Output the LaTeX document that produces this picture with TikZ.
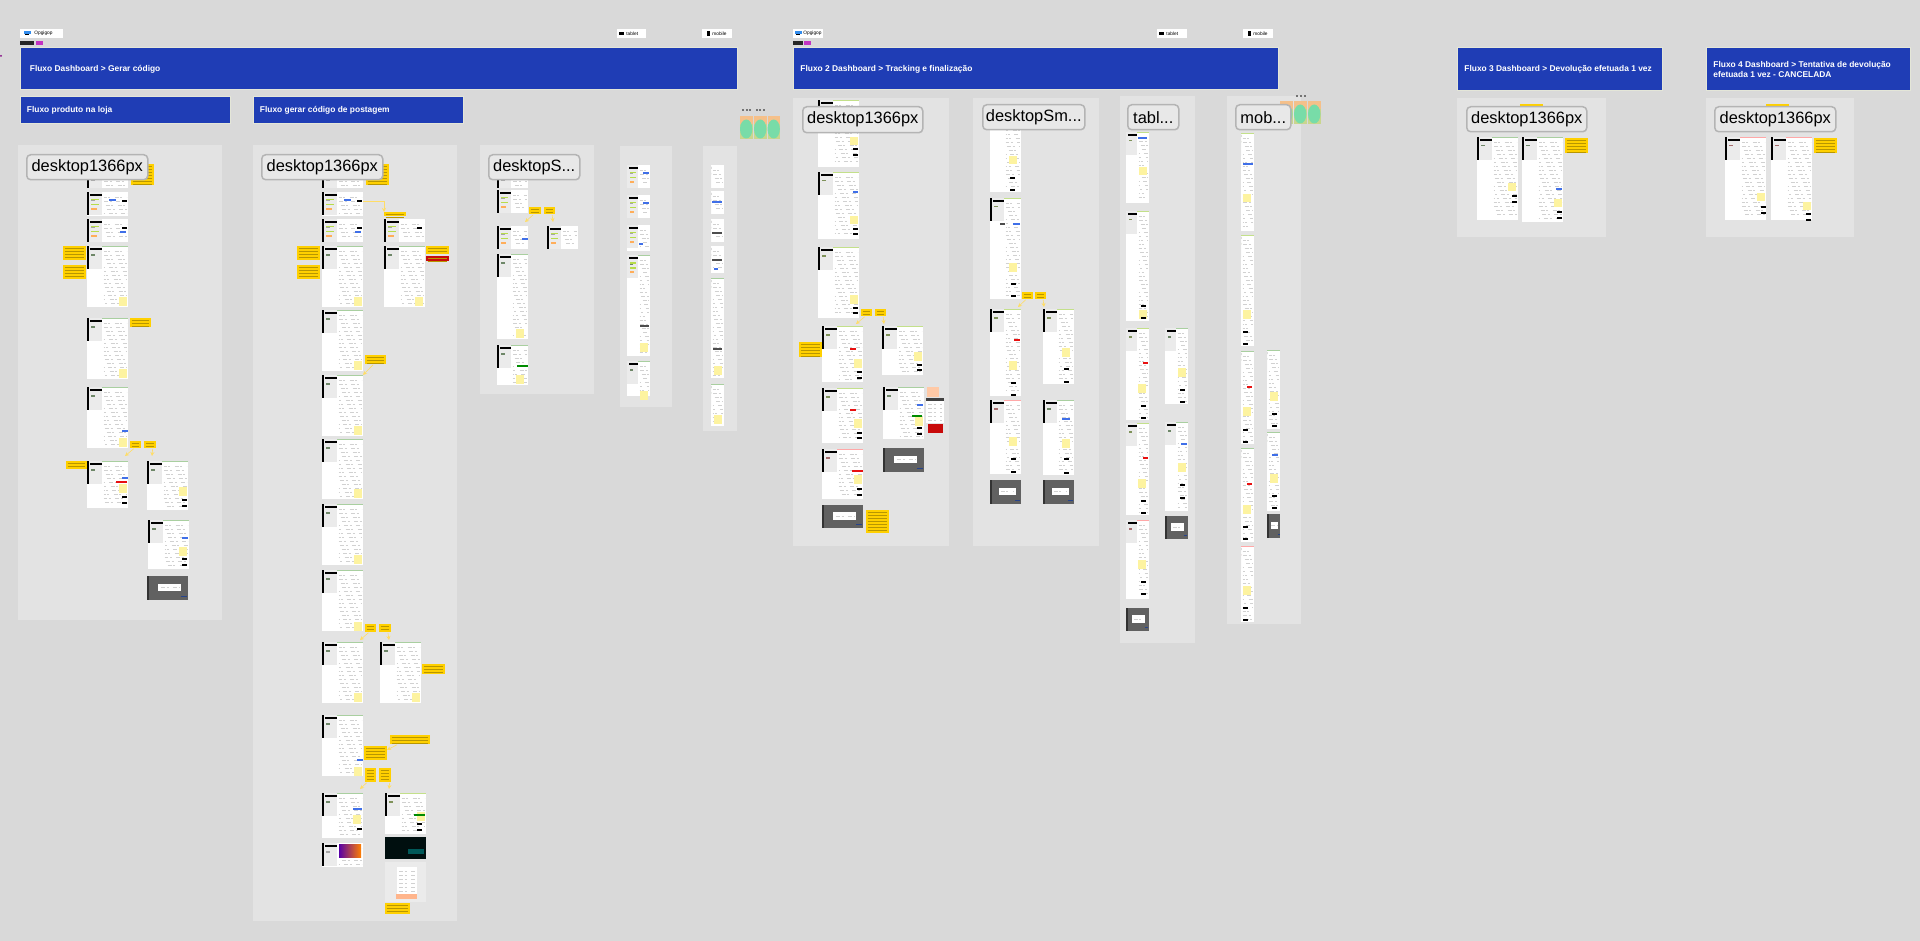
\documentclass[tikz,border=0pt]{standalone}
\usepackage{fontspec}
\setmainfont{Liberation Sans}
\usetikzlibrary{arrows.meta,positioning}

\begin{document}
\begin{tikzpicture}[
    x=0.5pt, y=-0.5pt,          % 1 drawing unit = 1 px of the board, y downwards
    >={Stealth[length=2pt,width=2pt]},
    font=\bfseries\fontsize{4.2}{5.4}\selectfont,
    bannerbox/.style={anchor=north west,fill=blueBar,draw=blueEdge,line width=0.4pt,inner sep=0pt},
    chipbox/.style={anchor=north west,fill=chipGrey,draw=chipEdge,line width=0.75pt,
                    rounded corners=2pt,inner sep=0pt,text=black,
                    font=\mdseries\fontsize{8.2}{9}\selectfont},
    tagbox/.style={anchor=north west,fill=white,inner sep=0pt,minimum height=4.5pt},
    tagtext/.style={inner sep=0pt,text=black,font=\mdseries\fontsize{2.4}{3}\selectfont},
    stickybox/.style={anchor=north west,inner sep=0pt},
    txt/.style={line width=0.22pt,black!18,dash pattern=on 2pt off 0.8pt on 1pt off 2.2pt},
    scrib/.style={line width=0.2pt,stickyY!72!black},
    conn/.style={->,line width=0.3pt,linkY},
  ]
  \definecolor{bgGrey}{HTML}{D9D9D9}
  \definecolor{frameGrey}{HTML}{E3E3E3}
  \definecolor{blueBar}{HTML}{1F3DB5}
  \definecolor{blueEdge}{HTML}{E4E6D8}
  \definecolor{chipGrey}{HTML}{E8E8E8}
  \definecolor{chipEdge}{HTML}{B4B4B4}
  \definecolor{stickyY}{HTML}{FFD000}
  \definecolor{stickyR}{HTML}{C80A0A}
  \definecolor{paleY}{HTML}{FDF3A0}
  \definecolor{linkY}{HTML}{FFDD66}
  \definecolor{stripG}{HTML}{A9CFA0}
  \definecolor{stripL}{HTML}{C3E08A}
  \definecolor{stripP}{HTML}{FFA8A8}
  \definecolor{panelGrey}{HTML}{EBEBEB}
  \definecolor{barBlue}{HTML}{3F6FE8}
  \definecolor{barRed}{HTML}{E81010}
  \definecolor{barLime}{HTML}{B7DC4A}
  \definecolor{barOrange}{HTML}{FFAE5A}
  \definecolor{cardO}{HTML}{F5C08A}
  \definecolor{cardL}{HTML}{C9D68E}
  \definecolor{cardG}{HTML}{78DCA8}

  \newcommand{\scrn}[6]{% x y w h panel-width strip-colour
    \fill[white] (#1,#2) rectangle ++(#3,#4);
    \fill[panelGrey] (#1,#2) rectangle ++(#5,{min(#4,23)});
    \fill[black] ({#1+0.2*#5},{#2+2}) rectangle ++({0.8*#5},2);
    \fill[fill=#6] ({#1+#5},#2) rectangle ++({#3-#5},1);
    \fill[fill=#6!65!black] ({#1+0.25*#5},{#2+8}) rectangle ++({0.3*#5},1.5);
    \pgfmathsetmacro{\ee}{#4-3}
    \foreach \l in {5,9,...,\ee}{
      \draw[txt,dash phase=1.3*\l pt] ({#1+#5+1.5},{#2+\l}) -- ++({#3-#5-3},0);}}
  \newcommand{\dskt}[6]{% the same with the black side rail
    \scrn{#1}{#2}{#3}{#4}{#5}{#6}
    \fill[black] ({#1+0.3},#2) rectangle ++(1.7,{min(#4,23)});}
  \newcommand{\lbars}[3]{% x y panel-width
    \fill[barLime] ({#1+0.25*#3},{#2+7}) rectangle ++({0.55*#3},1.5);
    \fill[barLime] ({#1+0.25*#3},{#2+12}) rectangle ++({0.55*#3},1.5);
    \fill[barOrange] ({#1+0.25*#3},{#2+16}) rectangle ++({0.4*#3},2);}
  \newcommand{\dimscrn}[4]{% x y w h
    \fill[black!62] (#1,#2) rectangle ++(#3,#4);
    \fill[black!80] (#1,#2) rectangle ++(2,#4);
    \fill[white] ({#1+0.28*#3},{#2+0.32*#4}) rectangle ++({0.55*#3},{0.32*#4});
    \draw[txt] ({#1+0.34*#3},{#2+0.48*#4}) -- ++({0.44*#3},0);
    \fill[barBlue!60!black] ({#1+0.82*#3},{#2+0.82*#4}) rectangle ++({0.15*#3},1.5);}
  \newcommand{\sticky}[6]{% name x y w h colour
    \node[stickybox,fill=#6,minimum width=#4*0.5pt,minimum height=#5*0.5pt] (#1) at (#2,#3) {};
    \pgfmathsetmacro{\ee}{#5-1}
    \foreach \l in {2,5,...,\ee}{
      \draw[scrib] ({#2+1.5},{#3+\l}) -- ++({#4-3.5},0);}}
  \newcommand{\banner}[7]{% name x y w h left-pad text
    \node[bannerbox,minimum width=#4*0.5pt,minimum height=#5*0.5pt] (#1) at (#2,#3) {};
    \node[anchor=west,inner sep=0pt,text=white,align=left] (#1txt) at ({#2+#6},{#3+#5/2+1}) {#7};}
  \newcommand{\chip}[6]{% name x y w h text
    \node[chipbox,minimum width=#4*0.5pt,minimum height=#5*0.5pt] (#1) at (#2,#3) {#6};}
  \newcommand{\tagmark}[5]{% name x w text-offset text
    \node[tagbox,minimum width=#3*0.5pt] (#1) at (#2,29) {};
    \node[tagtext,anchor=west] (#1txt) at ({#2+#4},33.5) {#5};}
  \newcommand{\gcard}[2]{% x y
    \fill[cardO] (#1,#2) rectangle ++(12.5,23);
    \fill[cardL] (#1,{#2+8}) rectangle ++(12.5,15);
    \fill[cardG] ({#1+6.2},{#2+13}) ellipse [x radius=6.2,y radius=9.5];}

  %% ---------------- board ----------------
  \fill[bgGrey] (0,0) rectangle (1920,941);
  \useasboundingbox (0,0) rectangle (1920,941);
  \fill[violet] (1,56) circle (1);

  %% ---------------- frames ----------------
  \foreach \xa/\ya/\xb/\yb in {18/145/222/620, 253/145/457/921, 480/145/594/394,
      620/146/672/407, 703/146/737/431, 793/98/949/546, 973/98/1099/546,
      1120/96/1195/643, 1227/96/1301/624, 1457/98/1606/237, 1706/98/1854/237}
    \fill[frameGrey] (\xa,\ya) rectangle (\xb,\yb);

  %% ---------------- tags above the banners ----------------
  \tagmark{tagDeskA}{20}{43}{14}{Opgigop}
  \tagmark{tagTabA}{617}{29}{9}{tablet}
  \tagmark{tagMobA}{702}{30}{10}{mobile}
  \tagmark{tagDeskB}{793}{30}{10}{Opgigop}
  \tagmark{tagTabB}{1157}{30}{9}{tablet}
  \tagmark{tagMobB}{1243}{30}{10}{mobile}
  \foreach \x in {24,795}{
    \fill[barBlue!80!cyan] (\x,31.5) rectangle ++(7,3);
    \fill[black] ({\x+1},34.5) rectangle ++(4,1);}
  \foreach \x in {619,1159}{\fill[black] (\x,32) rectangle ++(5,3);}
  \foreach \x in {707,1248}{\fill[black] (\x,31) rectangle ++(2.5,5);}
  \foreach \x/\w in {20/14,793/10}{\fill[black!85] (\x,41) rectangle ++(\w,4);}
  \foreach \x/\w in {36/7,804/7}{\fill[violet!60!magenta!80] (\x,41) rectangle ++(\w,4);}

  %% ---------------- banners ----------------
  \banner{flowA}{20}{47}{717}{42}{9.5}{Fluxo Dashboard > Gerar código}
  \banner{flowAa}{20}{96}{210}{27}{6.5}{Fluxo produto na loja}
  \banner{flowAb}{253}{96}{210}{27}{6.5}{Fluxo gerar código de postagem}
  \banner{flowB}{793}{47}{485}{42}{7}{Fluxo 2 Dashboard > Tracking e finalização}
  \banner{flowC}{1457}{47}{205}{43}{7}{Fluxo 3 Dashboard > Devolução efetuada 1 vez}
  \banner{flowD}{1706}{47}{204}{43}{7}{Fluxo 4 Dashboard > Tentativa de devolução\\efetuada 1 vez - CANCELADA}

  %% ---------------- desktop screens ----------------
  \foreach \x/\y/\h/\c in {87/172/16/white, 87/192/24/white, 87/219/23/white,
      87/246/61/stripG, 87/318/61/stripG, 87/387/61/stripG, 87/461/47/stripG,
      147/461/49/stripG, 148/520/49/stripG,
      322/172/16/white, 322/192/24/white, 322/219/23/white, 384/219/23/white,
      322/246/61/stripG, 384/246/61/stripG, 322/310/61/stripG, 322/375/61/stripG,
      322/439/60/stripG, 322/504/61/stripG, 322/570/61/stripG, 322/642/61/stripG,
      380/642/61/stripG, 322/715/61/stripG, 322/793/45/stripG, 385/793/41/stripL,
      322/843/24/white,
      818/100/67/stripL, 818/172/67/stripL, 818/247/71/stripL, 822/326/56/stripL,
      882/326/49/stripL, 822/388/55/stripL, 883/387/52/stripG, 822/449/50/stripP,
      1477/137/83/stripG, 1522/137/85/stripG, 1725/137/83/stripP, 1771/137/83/stripP}
    {\dskt{\x}{\y}{41}{\h}{15}{\c}}
  \foreach \x/\y/\h/\c in {497/172/16/white, 497/190/23/white, 497/226/23/white,
      547/226/23/white, 497/254/85/stripG, 497/345/40/stripG,
      990/105/87/stripL, 990/198/101/stripL, 990/309/87/stripL, 1043/309/75/stripL,
      990/400/74/stripP, 1043/400/75/stripG}
    {\dskt{\x}{\y}{31}{\h}{14}{\c}}

  %% ---------------- tablet and mobile screens ----------------
  \foreach \x/\y/\h/\c in {627/165/23/white, 627/195/23/white, 627/225/26/white,
      627/255/101/stripG, 627/361/35/stripG,
      1126/132/71/stripL, 1126/211/110/stripL, 1126/328/92/stripL, 1165/328/76/stripG,
      1126/423/92/stripL, 1165/422/89/stripG, 1126/520/79/stripP}
    {\scrn{\x}{\y}{23}{\h}{11}{\c}}
  \foreach \x/\y/\h/\c in {711/165/23/white, 711/191/23/white, 711/219/23/white,
      711/246/27/white, 711/278/100/stripG, 711/384/42/stripG,
      1241/133/98/stripL, 1241/235/111/stripL, 1241/351/93/stripG, 1241/448/94/stripG,
      1241/546/76/stripP, 1267/350/79/stripG, 1267/432/79/stripG}
    {\scrn{\x}{\y}{13}{\h}{0}{\c}}

  % menu bars of the short screens
  \foreach \x/\y in {87/192, 87/219, 322/192, 322/219, 384/219}{\lbars{\x}{\y}{15}}
  \foreach \x/\y in {497/190, 497/226, 547/226}{\lbars{\x}{\y}{14}}
  \foreach \x/\y in {627/165, 627/195, 627/225, 627/255}{\lbars{\x}{\y}{11}}

  % pale notes printed on the screens
  \foreach \x/\y in {119/297, 119/369, 119/438, 119/484, 179/487, 179/547,
      354/297, 354/361, 354/426, 354/489, 354/555, 354/622, 354/693, 412/693, 415/297,
      354/767, 353/815, 417/812,
      516/329, 516/375, 640/343, 640/391, 714/366, 714/415,
      850/137, 850/216, 850/295, 854/359, 914/352, 854/419, 915/417, 854/475,
      1009/156, 1009/263, 1009/361, 1062/348, 1009/437, 1062/439,
      1139/167, 1139/310, 1138/384, 1138/479, 1138/560, 1178/368, 1178/463,
      1243/194, 1243/310, 1243/407, 1243/505, 1243/586, 1270/392, 1270/474,
      1508/183, 1554/199, 1757/193, 1803/202}
    \fill[paleY] (\x,\y) rectangle ++(8,8.5);

  % black buttons
  \foreach \x/\y in {122/200, 122/227, 357/200, 357/227, 417/227, 122/496, 122/502,
      182/499, 182/505, 182/558, 182/564, 357/828, 417/823, 417/829,
      853/148, 853/154, 853/228, 853/233, 853/307, 853/312, 857/371, 857/377,
      917/364, 917/369, 917/427, 917/433, 857/432, 857/437, 857/488, 857/494,
      1010/177, 1010/189, 1011/283, 1011/295, 1011/382, 1011/394, 1064/368, 1064/381,
      1011/458, 1011/471, 1064/458, 1064/472,
      1141/305, 1141/317, 1141/405, 1141/417, 1141/500, 1141/512, 1141/581, 1141/593,
      1180/389, 1180/401, 1180/484, 1180/497,
      1243/331, 1243/343, 1243/429, 1243/441, 1243/526, 1243/538, 1243/607, 1243/619,
      1272/413, 1272/425, 1272/495, 1272/507,
      1512/195, 1512/201, 1557/211, 1557/217, 1761/206, 1761/212, 1806/213, 1806/219}
    \fill[black] (\x,\y) rectangle ++(5,2);

  % coloured buttons: x/y/width/colour
  \foreach \x/\y/\w/\c in {109/199/7/barBlue, 120/231/6/barBlue, 344/199/7/barBlue,
      355/231/6/barBlue, 122/430/6/barBlue, 122/477/6/barBlue, 182/537/6/barBlue,
      353/808/9/barBlue, 357/759/6/barBlue, 522/238/6/barBlue, 643/172/6/barBlue,
      643/202/6/barBlue, 639/243/4/barBlue, 712/201/10/barBlue, 714/268/4/barBlue,
      853/191/5/barBlue, 917/404/6/barBlue, 1062/418/8/barBlue, 1013/223/7/barBlue,
      1181/443/6/barBlue, 1272/454/6/barBlue, 1138/137/9/barBlue, 1243/163/10/barBlue,
      1556/188/6/barBlue,
      116/481/11/barRed, 850/348/6/barRed, 850/409/6/barRed, 852/470/11/barRed,
      1014/339/6/barRed, 1143/362/5/barRed, 1143/457/5/barRed, 1247/386/5/barRed,
      1247/483/5/barRed,
      640/325/9/black!70, 713/348/9/black!70, 712/232/10/black!70, 712/259/10/black!70,
      1000/223/5/black!70,
      912/415/10/green!55!black, 517/365/11/green!55!black, 414/814/11/green!55!black}
    \fill[fill=\c] (\x,\y) rectangle ++(\w,2);

  %% ---------------- dimmed screens ----------------
  \foreach \x/\y/\w/\h in {147/576/41/24, 883/448/41/24, 822/505/41/23, 990/480/31/24,
      1043/480/31/24, 1165/516/23/23, 1126/608/23/23, 1267/514/13/24}
    {\dimscrn{\x}{\y}{\w}{\h}}

  %% ---------------- odd screens ----------------
  \shade[left color=violet!70!blue,right color=orange] (339,844) rectangle (361,857);
  \fill[black!88!teal] (385,837) rectangle ++(41,22);
  \fill[teal!70!black] (408,849) rectangle ++(16,5);
  \fill[panelGrey] (385,862) rectangle ++(41,40);
  \fill[white] (397,867) rectangle (417,894);
  \fill[red!30!orange!45] (396,894) rectangle (417,899);
  \foreach \l in {871,875,...,892}{\draw[txt] (399,\l) -- (415,\l);}
  \fill[red!20!orange!35] (927,387) rectangle (939,397);
  \fill[white] (926,398) rectangle (944,423);
  \fill[black!75] (926,398) rectangle (944,401);
  \foreach \l in {404,408,...,421}{\draw[txt] (928,\l) -- (942,\l);}
  \fill[stickyR] (928,424) rectangle (943,433);

  %% ---------------- green cards ----------------
  \foreach \x in {740,754,767.5,1280,1294,1308}{
    \pgfmathsetmacro{\cy}{\x<1000 ? 116 : 101}
    \gcard{\x}{\cy}}
  \foreach \x in {742,746,749,756,759,763}{\fill[black!55] (\x,109) rectangle ++(1.6,1.6);}
  \foreach \x in {1296,1300,1304}{\fill[black!55] (\x,95) rectangle ++(1.6,1.6);}

  %% ---------------- stickies ----------------
  \sticky{stA}{131}{164}{23}{21}{stickyY}
  \sticky{stB}{63}{246}{23}{14}{stickyY}
  \sticky{stC}{63}{265}{23}{14}{stickyY}
  \sticky{stD}{130}{318}{21}{9}{stickyY}
  \sticky{stE}{130}{441}{11}{7}{stickyY}
  \sticky{stF}{144}{441}{12}{7}{stickyY}
  \sticky{stG}{66}{461}{21}{8}{stickyY}
  \sticky{stH}{366}{164}{23}{21}{stickyY}
  \sticky{stI}{297}{246}{23}{14}{stickyY}
  \sticky{stJ}{297}{265}{23}{14}{stickyY}
  \sticky{stK}{384}{212}{22}{4}{stickyY}
  \sticky{stL}{426}{246}{23}{8}{stickyY}
  \sticky{stM}{426}{256}{23}{5}{stickyR}
  \sticky{stN}{365}{355}{21}{9}{stickyY}
  \sticky{stO}{365}{624}{11}{8}{stickyY}
  \sticky{stP}{379}{624}{12}{8}{stickyY}
  \sticky{stQ}{422}{664}{23}{10}{stickyY}
  \sticky{stR}{364}{746}{23}{14}{stickyY}
  \sticky{stS}{390}{735}{40}{9}{stickyY}
  \sticky{stT}{365}{768}{11}{14}{stickyY}
  \sticky{stU}{379}{768}{12}{14}{stickyY}
  \sticky{stV}{385}{903}{25}{11}{stickyY}
  \sticky{stW}{529}{207}{12}{7}{stickyY}
  \sticky{stX}{544}{207}{11}{7}{stickyY}
  \sticky{stY}{861}{309}{11}{7}{stickyY}
  \sticky{stZ}{875}{309}{11}{7}{stickyY}
  \sticky{stAa}{799}{342}{23}{15}{stickyY}
  \sticky{stAb}{866}{510}{23}{23}{stickyY}
  \sticky{stAc}{1022}{292}{11}{7}{stickyY}
  \sticky{stAd}{1035}{292}{11}{7}{stickyY}
  \sticky{stAe}{1565}{138}{23}{15}{stickyY}
  \sticky{stAf}{1814}{138}{23}{15}{stickyY}
  \fill[stickyY] (1520,104) rectangle ++(23,3);
  \fill[stickyY] (1766,104) rectangle ++(23,3);

  %% ---------------- connectors ----------------
  \foreach \s/\a/\tx/\ty in {stE/240/125/456, stF/300/152/456, stN/240/363/375,
      stO/240/360/640, stP/300/389/640, stS/200/387/750, stT/240/360/789, stU/300/389/789,
      stW/240/525/222, stX/300/553/222, stY/240/856/324, stZ/300/884/324,
      stAc/240/1018/307, stAd/300/1044/307}{
    \coordinate (end\s) at (\tx,\ty);
    \draw[conn] (\s.\a) -- (end\s);}
  \coordinate (startK) at (363,201);
  \draw[conn] (startK) -| (stK.north west);

  %% ---------------- name chips ----------------
  \chip{chipA}{26}{154}{121}{25}{desktop1366px}
  \chip{chipB}{261}{154}{121}{25}{desktop1366px}
  \chip{chipC}{488}{154}{91}{25}{desktopS...}
  \chip{chipD}{802}{106}{120}{26}{desktop1366px}
  \chip{chipE}{982}{104}{102}{25}{desktopSm...}
  \chip{chipF}{1127}{104}{51}{25}{tabl...}
  \chip{chipG}{1235}{104}{55}{25}{mob...}
  \chip{chipH}{1466}{106}{120}{25}{desktop1366px}
  \chip{chipI}{1714}{106}{121}{25}{desktop1366px}
\end{tikzpicture}
\end{document}
